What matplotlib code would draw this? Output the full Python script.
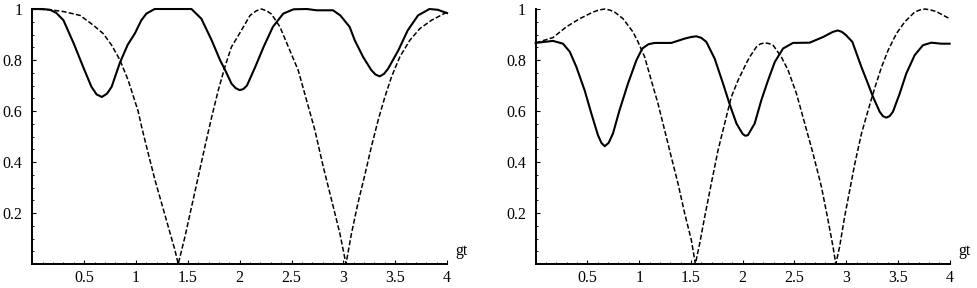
import matplotlib.pyplot as plt
from matplotlib.ticker import MultipleLocator, FuncFormatter

# values (gt on x, probability-like quantity on y)
left_solid_t = [0, 0.1, 0.17, 0.23, 0.3, 0.4, 0.49, 0.57, 0.62, 0.67, 0.72, 0.765, 0.845,
                0.92, 0.99, 1.05, 1.1, 1.18, 1.35, 1.535, 1.63, 1.73, 1.81, 1.86, 1.92, 1.96,
                2.0, 2.035, 2.07, 2.15, 2.23, 2.32, 2.42, 2.52, 2.65, 2.74, 2.82, 2.9, 2.97,
                3.06, 3.11, 3.19, 3.27, 3.31, 3.35, 3.39, 3.43, 3.53, 3.62, 3.72, 3.83, 3.91,
                4.0]
left_solid_v = [1.0, 1.0, 0.997, 0.985, 0.956, 0.864, 0.773, 0.695, 0.665, 0.655, 0.668,
                0.695, 0.79, 0.86, 0.905, 0.955, 0.982, 1.0, 1.0, 1.0, 0.962, 0.877, 0.8,
                0.76, 0.708, 0.69, 0.682, 0.686, 0.7, 0.773, 0.851, 0.93, 0.982, 0.999, 1.0,
                0.995, 0.995, 0.995, 0.975, 0.93, 0.877, 0.812, 0.76, 0.743, 0.736, 0.745,
                0.765, 0.838, 0.916, 0.975, 1.0, 0.997, 0.984]

left_dash_t = [0, 0.17, 0.3, 0.46, 0.59, 0.685, 0.765, 0.845, 0.925, 1.02, 1.054, 1.118,
               1.183, 1.247, 1.311, 1.375, 1.407, 1.472, 1.536, 1.6, 1.664, 1.73, 1.793,
               1.857, 1.92, 2.0, 2.1, 2.16, 2.21, 2.26, 2.307, 2.388, 2.483, 2.564, 2.645,
               2.725, 2.806, 2.886, 2.966, 3.025, 3.078, 3.14, 3.21, 3.27, 3.335, 3.4, 3.464,
               3.544, 3.64, 3.737, 3.85, 4.0]
left_dash_v = [1.0, 0.997, 0.99, 0.975, 0.936, 0.903, 0.858, 0.8, 0.72, 0.6, 0.538, 0.433,
               0.329, 0.238, 0.146, 0.055, 0.0, 0.107, 0.225, 0.342, 0.46, 0.577, 0.681,
               0.773, 0.851, 0.905, 0.975, 0.993, 1.0, 0.993, 0.98, 0.93, 0.838, 0.76, 0.642,
               0.525, 0.381, 0.251, 0.12, 0.0, 0.12, 0.238, 0.355, 0.46, 0.564, 0.655, 0.734,
               0.812, 0.877, 0.923, 0.956, 0.988]

right_solid_t = [0, 0.167, 0.264, 0.33, 0.393, 0.473, 0.538, 0.602, 0.635, 0.667, 0.705,
                 0.747, 0.81, 0.892, 0.973, 1.03, 1.09, 1.15, 1.31, 1.44, 1.5, 1.552, 1.6,
                 1.649, 1.73, 1.81, 1.877, 1.94, 2.0, 2.025, 2.05, 2.116, 2.18, 2.245, 2.31,
                 2.39, 2.486, 2.647, 2.776, 2.87, 2.92, 2.96, 3.0, 3.06, 3.147, 3.21, 3.26,
                 3.324, 3.355, 3.388, 3.42, 3.452, 3.517, 3.581, 3.662, 3.742, 3.823, 3.92,
                 4.0]
right_solid_v = [0.867, 0.875, 0.864, 0.832, 0.773, 0.681, 0.59, 0.505, 0.475, 0.462, 0.475,
                 0.512, 0.603, 0.708, 0.799, 0.845, 0.862, 0.867, 0.867, 0.884, 0.89, 0.893,
                 0.887, 0.871, 0.805, 0.708, 0.623, 0.551, 0.51, 0.503, 0.505, 0.551, 0.642,
                 0.72, 0.792, 0.845, 0.867, 0.868, 0.89, 0.91, 0.916, 0.91, 0.897, 0.871,
                 0.773, 0.708, 0.655, 0.597, 0.58, 0.574, 0.58, 0.597, 0.668, 0.747, 0.819,
                 0.858, 0.868, 0.864, 0.864]

right_dash_t = [0, 0.167, 0.296, 0.425, 0.554, 0.61, 0.667, 0.715, 0.763, 0.844, 0.94,
                0.989, 1.053, 1.117, 1.182, 1.246, 1.31, 1.375, 1.44, 1.504, 1.543, 1.585,
                1.633, 1.697, 1.762, 1.826, 1.89, 1.955, 2.003, 2.045, 2.068, 2.132, 2.17,
                2.213, 2.25, 2.294, 2.374, 2.439, 2.52, 2.6, 2.68, 2.761, 2.825, 2.873, 2.9,
                2.937, 2.985, 3.03, 3.082, 3.147, 3.21, 3.276, 3.34, 3.405, 3.485, 3.565,
                3.662, 3.71, 3.759, 3.81, 3.871, 4.0]
right_dash_v = [0.867, 0.888, 0.93, 0.962, 0.988, 0.996, 1.0, 0.996, 0.988, 0.962, 0.91,
                0.871, 0.812, 0.72, 0.629, 0.525, 0.42, 0.316, 0.198, 0.094, 0.0, 0.081,
                0.185, 0.316, 0.446, 0.551, 0.655, 0.72, 0.76, 0.795, 0.812, 0.851, 0.863,
                0.867, 0.865, 0.858, 0.812, 0.76, 0.668, 0.551, 0.433, 0.303, 0.172, 0.068,
                0.0, 0.068, 0.185, 0.28, 0.39, 0.51, 0.6, 0.69, 0.77, 0.838, 0.903, 0.949,
                0.988, 0.996, 1.0, 0.997, 0.99, 0.962]

x_ticks = [0.5, 1, 1.5, 2, 2.5, 3, 3.5, 4]
y_ticks = [0.2, 0.4, 0.6, 0.8, 1]

plt.rcParams['font.family'] = 'Liberation Serif'
plt.rcParams['font.size'] = 11.5

fig = plt.figure(figsize=(9.77, 2.88), dpi=100)
ax1 = fig.add_axes([0.0331, 0.0833, 0.4245, 0.8854])
ax2 = fig.add_axes([0.5483, 0.0833, 0.4237, 0.8854])

panels = [(ax1, left_solid_t, left_solid_v, left_dash_t, left_dash_v),
          (ax2, right_solid_t, right_solid_v, right_dash_t, right_dash_v)]

for ax, st, sv, dt, dv in panels:
    ax.plot(st, sv, color='black', lw=1.5, clip_on=False, solid_joinstyle='round')
    ax.plot(dt, dv, color='black', lw=1.1, linestyle=(0, (3.3, 1.5)), clip_on=False)
    ax.set_xlim(0, 4)
    ax.set_ylim(0, 1)
    for side in ['top', 'right']:
        ax.spines[side].set_visible(False)
    for side in ['left', 'bottom']:
        ax.spines[side].set_linewidth(1.4)
    ax.set_xticks(x_ticks)
    ax.set_yticks(y_ticks)
    ax.xaxis.set_minor_locator(MultipleLocator(0.1))
    ax.yaxis.set_minor_locator(MultipleLocator(0.05))
    fmt = FuncFormatter(lambda v, p: '%g' % v)
    ax.xaxis.set_major_formatter(fmt)
    ax.yaxis.set_major_formatter(fmt)
    ax.tick_params(which='major', direction='in', length=3, width=0.8, pad=4)
    ax.tick_params(which='minor', direction='in', length=1.5, width=0.6)
    ax.tick_params(axis='y', which='major', pad=7)
    ax.text(4.08, 0.02, 'gt', ha='left', va='bottom', clip_on=False)
    ax.patch.set_visible(False)

fig.savefig('out.png', dpi=100)
